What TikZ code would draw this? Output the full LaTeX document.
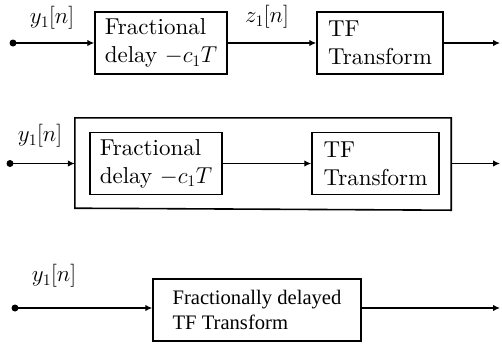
\RequirePackage{fix-cm}
\documentclass[tikz,border=0pt]{standalone}
\usepackage{fontspec}
% the 10pt design of Latin Modern, scaled up, for the block captions
\setmainfont{lmroman10-regular.otf}
\newfontfamily\timesfont{Liberation Serif}
\usetikzlibrary{arrows.meta}

\begin{document}
\begin{tikzpicture}[x=1pt,y=-1pt,
  every node/.style={font=\fontsize{23}{28}\selectfont},
  blk/.style={draw,line width=1.5pt,align=left,inner sep=0pt,minimum height=62pt},
  sig/.style={line width=1.3pt,-{Latex[length=7pt,width=6.5pt]}},
  dot/.style={circle,fill,inner sep=0pt,minimum size=7pt},
  lbl/.style={inner sep=0pt}]
\useasboundingbox (0,0) rectangle (502,349);

% --- chain 1: delay followed by the transform
\node[dot] (a1) at (13,43) {};
\node[blk,minimum width=132pt] (b1) at (161,43) {Fractional\\delay $-c_1T$};
\node[blk,minimum width=126pt] (c1) at (380,43) {TF\\Transform};
\coordinate (o1) at (500,43);
\node[lbl] (y1a) at (52,18) {$y_1[n]$};
\node[lbl] (z1) at (267,17) {$z_1[n]$};
\draw[sig] (a1.center) -- (a1 -| b1.west);
\draw[sig] (b1.east) -- (c1.west);
\draw[sig] (c1.east) -- (o1);

% --- chain 2: both blocks grouped in one enclosing block
\node[dot] (a2) at (10,163.5) {};
\node[minimum width=376pt,minimum height=91pt,inner sep=0pt] (grp) at (263,163.5) {};
\draw[line width=1.6pt] (grp.north west) -- (grp.north east)
  -- ([yshift=-1pt]grp.south east) -- ([yshift=1pt]grp.south west) -- cycle;
\node[blk,minimum width=132pt] (b2) at (156,163.5) {Fractional\\delay $-c_1T$};
\node[blk,minimum width=127pt] (c2) at (375.5,163.5) {TF\\Transform};
\coordinate (o2) at (500,163.5);
\node[lbl] (y1b) at (40,136) {$y_1[n]$};
\draw[sig] (a2.center) -- (a2 -| grp.west);
\draw[sig] (b2.east) -- (c2.west);
\draw[sig] (grp.east) -- (o2);

% --- chain 3: single combined block
\node[dot] (a3) at (15,308) {};
\node[blk,minimum width=208pt,font=\timesfont\fontsize{20.6}{25}\selectfont] (d3) at (257,310)
  {Fractionally delayed\\TF Transform};
\coordinate (o3) at (500,308);
\node[lbl] (y1c) at (54,276) {$y_1[n]$};
\draw[sig] (a3.center) -- (a3 -| d3.west);
\draw[sig] (a3 -| d3.east) -- (o3);
\end{tikzpicture}
\end{document}
